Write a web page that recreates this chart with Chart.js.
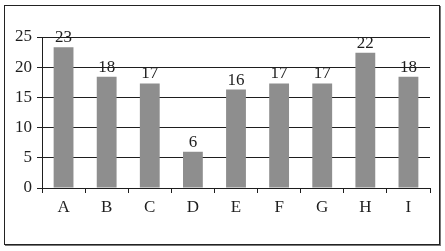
<!DOCTYPE html>
<html>
<head>
<meta charset="utf-8">
<script src="https://cdn.jsdelivr.net/npm/chart.js@4/dist/chart.umd.min.js"></script>
<style>
  html, body { margin: 0; padding: 0; background: #fff; }
  #wrap { position: relative; width: 445px; height: 251px; }
  #frame { position: absolute; left: 4px; top: 5px; width: 434px; height: 238px;
           border: 1px solid #222; box-shadow: 1px 1px 0 #777; pointer-events: none; }
  canvas { position: absolute; left: 0; top: 0; }
</style>
</head>
<body>
<div id="wrap">
  <canvas id="bars" width="445" height="251"></canvas>
  <div id="frame"></div>
</div>
<script>
var categories = ["A", "B", "C", "D", "E", "F", "G", "H", "I"];
var counts = [23.3, 18.4, 17.3, 6.0, 16.3, 17.3, 17.3, 22.4, 18.4];
var yTicks = [0, 5, 10, 15, 20, 25];

var ink = "#1e1e1e";
var serif = "'Liberation Serif', 'DejaVu Serif', serif";

// numbers above each bar
var barValues = {
    id: 'barValues',
    afterDatasetsDraw: function (chart) {
        var ctx = chart.ctx;
        var meta = chart.getDatasetMeta(0);
        ctx.save();
        ctx.font = "17px " + serif;
        ctx.fillStyle = ink;
        ctx.textAlign = "center";
        ctx.textBaseline = "bottom";
        meta.data.forEach(function (bar, i) {
            ctx.fillText(Math.round(counts[i]), bar.x, bar.y - 1);
        });
        ctx.restore();
    }
};

new Chart(document.getElementById("bars"), {
    type: 'bar',
    data: {
        labels: categories,
        datasets: [{
            data: counts,
            backgroundColor: "#8e8e8e",
            categoryPercentage: 1,
            barPercentage: 0.46
        }]
    },
    options: {
        responsive: false,
        animation: false,
        events: [],
        layout: { padding: { top: 37, right: 15, left: 0, bottom: 0 } },
        plugins: {
            legend: { display: false },
            tooltip: { enabled: false }
        },
        scales: {
            x: {
                grid: { offset: true, drawOnChartArea: false, drawTicks: true, tickLength: 5, color: ink, lineWidth: 1 },
                border: { color: ink, width: 1 },
                ticks: { color: ink, font: { family: serif, size: 17 }, padding: 4 },
                afterFit: function (scale) { scale.height = 63; }
            },
            y: {
                min: 0,
                max: 25,
                afterBuildTicks: function (scale) {
                    scale.ticks = yTicks.map(function (v) { return { value: v }; });
                },
                grid: { color: ink, lineWidth: 1, tickLength: 5 },
                border: { color: ink, width: 1 },
                ticks: { color: ink, font: { family: serif, size: 17 }, padding: 5 },
                afterFit: function (scale) { scale.width = 42; }
            }
        }
    },
    plugins: [barValues]
});
</script>
</body>
</html>
